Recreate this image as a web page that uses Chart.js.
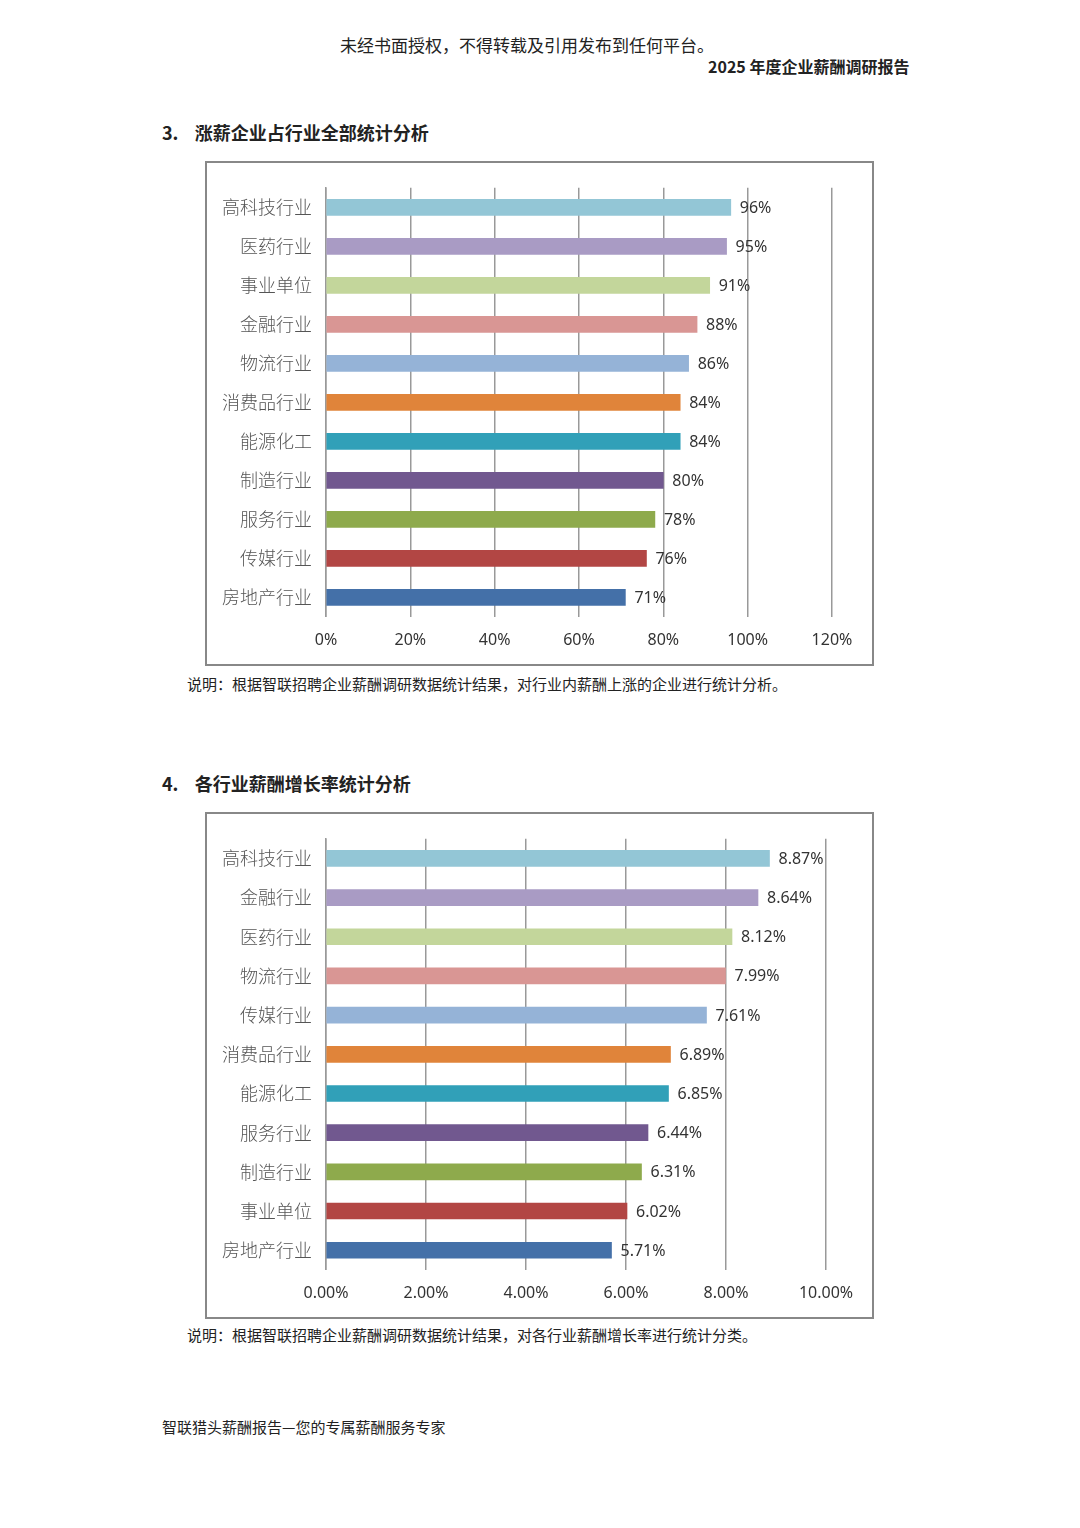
<!DOCTYPE html>
<html><head><meta charset="utf-8">
<script src="https://cdn.jsdelivr.net/npm/chart.js@4/dist/chart.umd.min.js"></script>
<style>
body{margin:0;width:1080px;height:1528px;background:#fff;position:relative;font-family:"Noto Sans CJK SC","Noto Sans",sans-serif;color:#222}
.t{position:absolute;white-space:nowrap}
.box{position:absolute;border:2px solid #888;box-sizing:border-box;background:#fff}
canvas{display:block}
</style></head><body>
<div class="t" style="left:340px;top:32px;font-size:17px">未经书面授权，不得转载及引用发布到任何平台。</div>
<div class="t" style="left:708px;top:54px;font-size:16px;font-weight:bold">2025 年度企业薪酬调研报告</div>
<div class="t" style="left:162px;top:119px;font-size:18px;font-weight:bold">3.&nbsp;&nbsp;&nbsp;&nbsp;涨薪企业占行业全部统计分析</div>
<div class="box" style="left:205px;top:161px;width:669px;height:505px"><canvas id="c1" width="665" height="501"></canvas></div>
<div class="t" style="left:187px;top:673px;font-size:15px">说明：根据智联招聘企业薪酬调研数据统计结果，对行业内薪酬上涨的企业进行统计分析。</div>
<div class="t" style="left:162px;top:770px;font-size:18px;font-weight:bold">4.&nbsp;&nbsp;&nbsp;&nbsp;各行业薪酬增长率统计分析</div>
<div class="box" style="left:205px;top:812px;width:669px;height:507px"><canvas id="c2" width="665" height="503"></canvas></div>
<div class="t" style="left:187px;top:1324px;font-size:15px">说明：根据智联招聘企业薪酬调研数据统计结果，对各行业薪酬增长率进行统计分类。</div>
<div class="t" style="left:162px;top:1416px;font-size:15px">智联猎头薪酬报告—您的专属薪酬服务专家</div>
<script>
const colors=["#93C6D6","#A99BC4","#C3D69B","#D99694","#95B3D7","#E0843A","#31A0B8","#71588F","#8EAA4C","#B24644","#4470A8"];
const cats1=["高科技行业","医药行业","事业单位","金融行业","物流行业","消费品行业","能源化工","制造行业","服务行业","传媒行业","房地产行业"];
const vals1=[96,95,91,88,86,84,84,80,78,76,71];
const cats2=["高科技行业","金融行业","医药行业","物流行业","传媒行业","消费品行业","能源化工","服务行业","制造行业","事业单位","房地产行业"];
const vals2=[8.87,8.64,8.12,7.99,7.61,6.89,6.85,6.44,6.31,6.02,5.71];
function mkLabel(fmt){return {id:'lbl',afterDatasetsDraw(ch){const c=ch.ctx,m=ch.getDatasetMeta(0),ds=ch.data.datasets[0];c.save();c.font='16px "Noto Sans",sans-serif';c.fillStyle='#333';c.textBaseline='middle';
m.data.forEach((b,i)=>{c.fillText(fmt(ds.data[i]),b.x+9,b.y+1)});c.restore();}};}
function mk(id,cats,vals,max,step,fmt,padR){
new Chart(document.getElementById(id),{type:'bar',data:{labels:cats,datasets:[{data:vals,backgroundColor:colors,barThickness:16}]},
options:{indexAxis:'y',responsive:false,animation:false,layout:{padding:{top:7,right:padR,left:0,bottom:0}},
plugins:{legend:{display:false},tooltip:{enabled:false}},
scales:{x:{min:0,max:max,ticks:{stepSize:step,callback:v=>fmt(v),color:'#333',font:{size:16,family:'"Noto Sans",sans-serif'},padding:14},grid:{color:'#999',lineWidth:1.5,drawTicks:false},border:{display:false}},
y:{afterFit:s=>{s.width=119},ticks:{color:'#555',font:{size:18,family:'"Noto Sans CJK SC"',weight:300},padding:14},grid:{display:false,drawTicks:false},border:{color:'#999',width:1.5}}}},
plugins:[mkLabel(fmt)]});}
mk('c1',cats1,vals1,120,20,v=>Math.round(v)+'%',40);
mk('c2',cats2,vals2,10,2,v=>Number(v).toFixed(2)+'%',46);
</script></body></html>
